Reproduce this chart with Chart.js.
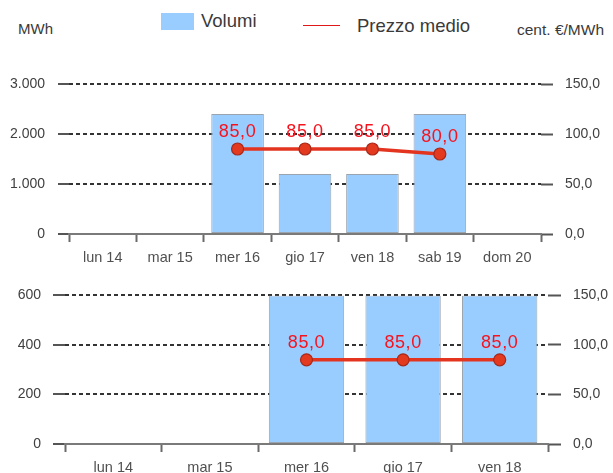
<!DOCTYPE html>
<html lang="it">

<head>
    <meta charset="UTF-8">
    <title>Volumi e prezzo medio</title>
    <script src="https://cdn.jsdelivr.net/npm/chart.js"></script>
    <style>
        body { margin: 0; width: 613px; height: 473px; overflow: hidden; background: #fff; position: relative;
               font-family: "Liberation Sans", Arial, sans-serif; color: #3a3a3a; }
        .txt { position: absolute; white-space: nowrap; line-height: 1; }
        canvas { position: absolute; left: 0; }
    </style>
</head>

<body>
    <div class="txt" style="left:18px; top:21px; font-size:15px;">MWh</div>
    <div style="position:absolute; left:161px; top:13px; width:33px; height:17px; background:#99ccff;"></div>
    <div class="txt" style="left:201px; top:12px; font-size:18.5px;">Volumi</div>
    <div style="position:absolute; left:303px; top:25px; width:37px; height:1px; background:#e01818;"></div>
    <div class="txt" style="left:357px; top:17px; font-size:18.5px;">Prezzo medio</div>
    <div class="txt" style="left:517px; top:22px; font-size:15.5px;">cent. €/MWh</div>

    <canvas id="chartTop" width="613" height="215" style="top:60px"></canvas>
    <canvas id="chartBottom" width="613" height="198" style="top:275px"></canvas>

    <script>
        // settimana 1
        var daysTop = ['lun 14', 'mar 15', 'mer 16', 'gio 17', 'ven 18', 'sab 19', 'dom 20'];
        var volTop = [null, null, 2400, 1200, 1200, 2400, null];
        var priceTop = [null, null, 85, 85, 85, 80, null];

        // settimana 2
        var daysBottom = ['lun 14', 'mar 15', 'mer 16', 'gio 17', 'ven 18'];
        var volBottom = [null, null, 600, 600, 600];
        var priceBottom = [null, null, 85, 85, 85];

        var fontFamily = '"Liberation Sans", Arial, sans-serif';

        function thousands(v) {
            return String(v).replace(/\B(?=(\d{3})+(?!\d))/g, '.');
        }

        function decimal(v) {
            return v.toFixed(1).replace('.', ',');
        }

        // etichette rosse sopra i punti del prezzo
        var priceLabels = {
            id: 'priceLabels',
            afterDatasetsDraw: function (chart) {
                var ctx = chart.ctx;
                var meta = chart.getDatasetMeta(1);
                var values = chart.data.datasets[1].data;
                ctx.save();
                ctx.font = '18px ' + fontFamily;
                ctx.fillStyle = '#f5141e';
                ctx.textAlign = 'center';
                ctx.textBaseline = 'middle';
                if ('letterSpacing' in ctx) ctx.letterSpacing = '0.6px';
                meta.data.forEach(function (pt, i) {
                    if (values[i] == null) return;
                    ctx.fillText(decimal(values[i]), pt.x, pt.y - 17);
                });
                ctx.restore();
            }
        };

        function makeChart(id, labels, vol, price, cfg) {
            var ctx = document.getElementById(id).getContext('2d');
            return new Chart(ctx, {
                data: {
                    labels: labels,
                    datasets: [{
                        type: 'bar',
                        label: 'Volumi',
                        data: vol,
                        yAxisID: 'y',
                        backgroundColor: '#99ccff',
                        borderColor: '#9aa4ae',
                        borderWidth: 1,
                        borderSkipped: false,
                        categoryPercentage: 1,
                        barPercentage: 0.78,
                        order: 1
                    }, {
                        type: 'line',
                        label: 'Prezzo medio',
                        data: price,
                        yAxisID: 'y1',
                        borderColor: '#e3341f',
                        borderWidth: 3.5,
                        pointRadius: 6,
                        pointBackgroundColor: '#e3391f',
                        pointBorderColor: '#a8281a',
                        pointBorderWidth: 1.2,
                        tension: 0,
                        order: 0
                    }]
                },
                options: {
                    responsive: false,
                    animation: false,
                    devicePixelRatio: 1,
                    layout: { padding: { top: cfg.padTop, bottom: 0, left: 0, right: 0 } },
                    plugins: { legend: { display: false }, tooltip: { enabled: false } },
                    scales: {
                        x: {
                            offset: true,
                            grid: {
                                offset: true,
                                drawOnChartArea: false,
                                drawTicks: true,
                                tickLength: 8,
                                tickWidth: 2,
                                tickColor: '#6a6a6a'
                            },
                            border: { display: true, color: '#7a7a7a', width: 2 },
                            ticks: {
                                color: '#505050',
                                padding: 7,
                                maxRotation: 0,
                                font: { family: fontFamily, size: 14.5 }
                            },
                            afterFit: function (s) { s.height = cfg.xHeight; }
                        },
                        y: {
                            position: 'left',
                            min: 0,
                            max: cfg.volMax,
                            ticks: {
                                stepSize: cfg.volStep,
                                color: '#404040',
                                padding: cfg.leftPad,
                                font: { family: fontFamily, size: 14 },
                                callback: function (v) { return thousands(v); }
                            },
                            grid: {
                                color: '#333',
                                lineWidth: 2,
                                drawTicks: true,
                                tickLength: cfg.leftTick,
                                tickWidth: 2,
                                tickColor: '#555'
                            },
                            border: { display: false, dash: [4, 3] },
                            afterFit: function (s) { s.width = cfg.leftW; }
                        },
                        y1: {
                            position: 'right',
                            min: 0,
                            max: 150,
                            ticks: {
                                stepSize: 50,
                                color: '#404040',
                                padding: cfg.rightPad,
                                font: { family: fontFamily, size: 14 },
                                callback: function (v) { return decimal(v); }
                            },
                            grid: {
                                drawOnChartArea: false,
                                drawTicks: true,
                                tickLength: cfg.rightTick,
                                tickWidth: 2,
                                tickColor: '#555'
                            },
                            border: { display: false },
                            afterFit: function (s) { s.width = cfg.rightW; }
                        }
                    }
                },
                plugins: [priceLabels]
            });
        }

        makeChart('chartTop', daysTop, volTop, priceTop, {
            padTop: 24, xHeight: 41, volMax: 3000, volStep: 1000,
            leftW: 69, leftTick: 11, leftPad: 13,
            rightW: 72, rightTick: 12, rightPad: 12
        });

        makeChart('chartBottom', daysBottom, volBottom, priceBottom, {
            padTop: 19, xHeight: 29, volMax: 600, volStep: 200,
            leftW: 65, leftTick: 12, leftPad: 12,
            rightW: 65, rightTick: 13, rightPad: 12
        });
    </script>
</body>

</html>
